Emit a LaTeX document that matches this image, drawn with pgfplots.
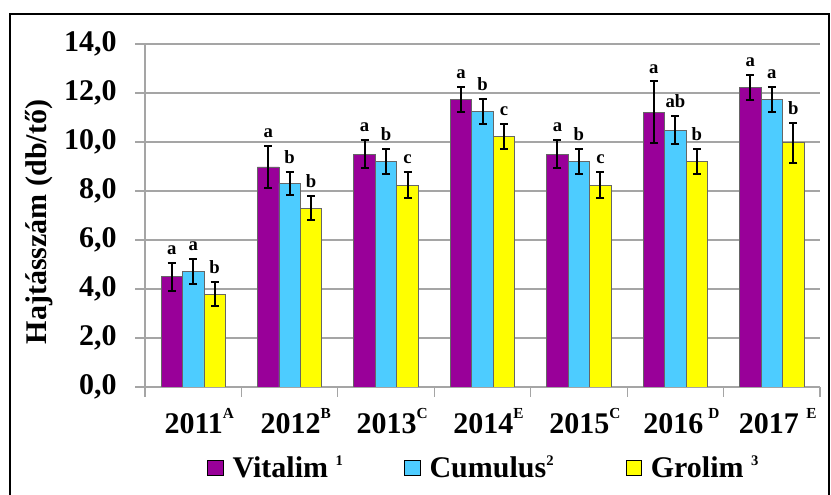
\documentclass[border=0pt]{standalone}
\usepackage{pgfplots}
\pgfplotsset{compat=1.18}
\usepackage{pgfplotstable}
\usepackage{fontspec}
\setmainfont{Liberation Serif}
\definecolor{vit}{RGB}{153,0,153}
\definecolor{cum}{RGB}{77,204,255}
\definecolor{gro}{RGB}{255,255,0}
\definecolor{gridc}{RGB}{165,165,165}
\newcommand{\ysup}[1]{\raisebox{11pt}{\fontsize{11.5}{12}\selectfont #1}}
\newcommand{\lsup}[1]{\raisebox{9.5pt}{\fontsize{11}{12}\selectfont #1}}

\pgfplotstableread{
x y err top lbl
0 4.50 0.57 5.07 a
1 8.98 0.85 9.83 a
2 9.50 0.58 10.08 a
3 11.73 0.51 12.24 a
4 9.50 0.58 10.08 a
5 11.22 1.25 12.47 a
6 12.23 0.51 12.74 a
}\vitalim
\pgfplotstableread{
x y err top lbl
0 4.73 0.51 5.24 a
1 8.31 0.48 8.79 b
2 9.21 0.50 9.71 b
3 11.24 0.50 11.74 b
4 9.21 0.50 9.71 b
5 10.48 0.58 11.06 ab
6 11.73 0.51 12.24 a
}\cumulus
\pgfplotstableread{
x y err top lbl
0 3.78 0.49 4.27 b
1 7.29 0.49 7.78 b
2 8.24 0.52 8.76 c
3 10.23 0.51 10.74 c
4 8.24 0.52 8.76 c
5 9.21 0.50 9.71 b
6 9.97 0.81 10.78 b
}\grolim

\begin{document}
\begin{tikzpicture}
\useasboundingbox (0,0) rectangle (623.25pt,371.25pt);
\draw[black, line width=1.5pt] (7.5pt,-5pt) -- (7.5pt,360.75pt) -- (621.75pt,360.75pt) -- (621.75pt,-5pt);
\begin{axis}[
  at={(108.75pt,81pt)}, anchor=south west,
  scale only axis, width=506.25pt, height=257.25pt,
  ybar=0pt, bar width=16.1pt,
  xmin=-0.5, xmax=6.5, ymin=0, ymax=14,
  ytick={0,2,...,14},
  xtick={0,...,6},
  xticklabels={2011\ysup{A}, 2012\ysup{B}, 2013\ysup{C}, 2014\ysup{E}, 2015\ysup{C}, 2016\,\ysup{D}, 2017 \ysup{E}},
  minor xtick={-0.5,0.5,...,6.5},
  major x tick style={draw=none},
  major tick length=7.5pt, minor tick length=7.5pt,
  tick align=outside,
  axis x line*=bottom, axis y line*=left,
  axis line style={gridc, line width=0.8pt, -},
  ymajorgrids, grid style={gridc, line width=0.8pt},
  tick style={gridc, line width=0.8pt},
  /pgf/number format/assume math mode=true,
  yticklabel={\pgfmathprintnumber[fixed,fixed zerofill,precision=1,use comma]{\tick}},
  tick label style={font=\fontsize{22.5}{26}\selectfont\bfseries, black, inner sep=0pt},
  yticklabel style={anchor=east, xshift=-13.5pt},
  xticklabel style={anchor=base, yshift=-27pt, xshift=4.5pt},
  ylabel={Hajtásszám (db/tő)},
  ylabel style={font=\fontsize{22.5}{26}\selectfont\bfseries, at={(axis description cs:-0.157,0.481)}, anchor=center},
  legend columns=3,
  legend style={draw=none, fill=none, at={(axis description cs:0.0919,-0.2347)}, anchor=west,
    inner sep=0pt, nodes={inner sep=0pt},
    font=\fontsize{22.5}{26}\selectfont\bfseries,
    /tikz/every odd column/.append style={column sep=6.75pt},
    /tikz/column 2/.append style={column sep=46pt},
    /tikz/column 4/.append style={column sep=54pt}},
  legend image code/.code={\draw[#1, draw=black, line width=0.6pt] (0pt,-5.6pt) rectangle (11.6pt,5.6pt);},
  lbl/.style={draw=none, fill=none, forget plot, nodes near coords={\pgfplotspointmeta}, point meta=explicit symbolic,
    every node near coord/.append style={font=\fontsize{14}{16}\selectfont\bfseries, black, anchor=south, inner sep=0pt, yshift=6pt}},
  err/.style={error bars/y dir=both, error bars/y explicit,
    error bars/error bar style={black, line width=1.5pt},
    error bars/error mark options={black, line width=1.5pt, mark size=3pt, rotate=90}},
]
\addplot[fill=vit, draw=black!60, line width=0.6pt, bar shift=-16.1pt, err] table[x=x, y=y, y error=err] {\vitalim};
\addlegendentry{Vitalim \lsup{1}}
\addplot[fill=cum, draw=black!60, line width=0.6pt, bar shift=0pt, err] table[x=x, y=y, y error=err] {\cumulus};
\addlegendentry{Cumulus\lsup{2}}
\addplot[fill=gro, draw=black!60, line width=0.6pt, bar shift=16.1pt, err] table[x=x, y=y, y error=err] {\grolim};
\addlegendentry{Grolim \lsup{3}}
\addplot[lbl, bar shift=-16.1pt] table[x=x, y=top, meta=lbl] {\vitalim};
\addplot[lbl, bar shift=0pt] table[x=x, y=top, meta=lbl] {\cumulus};
\addplot[lbl, bar shift=16.1pt] table[x=x, y=top, meta=lbl] {\grolim};
\end{axis}
\end{tikzpicture}
\end{document}
